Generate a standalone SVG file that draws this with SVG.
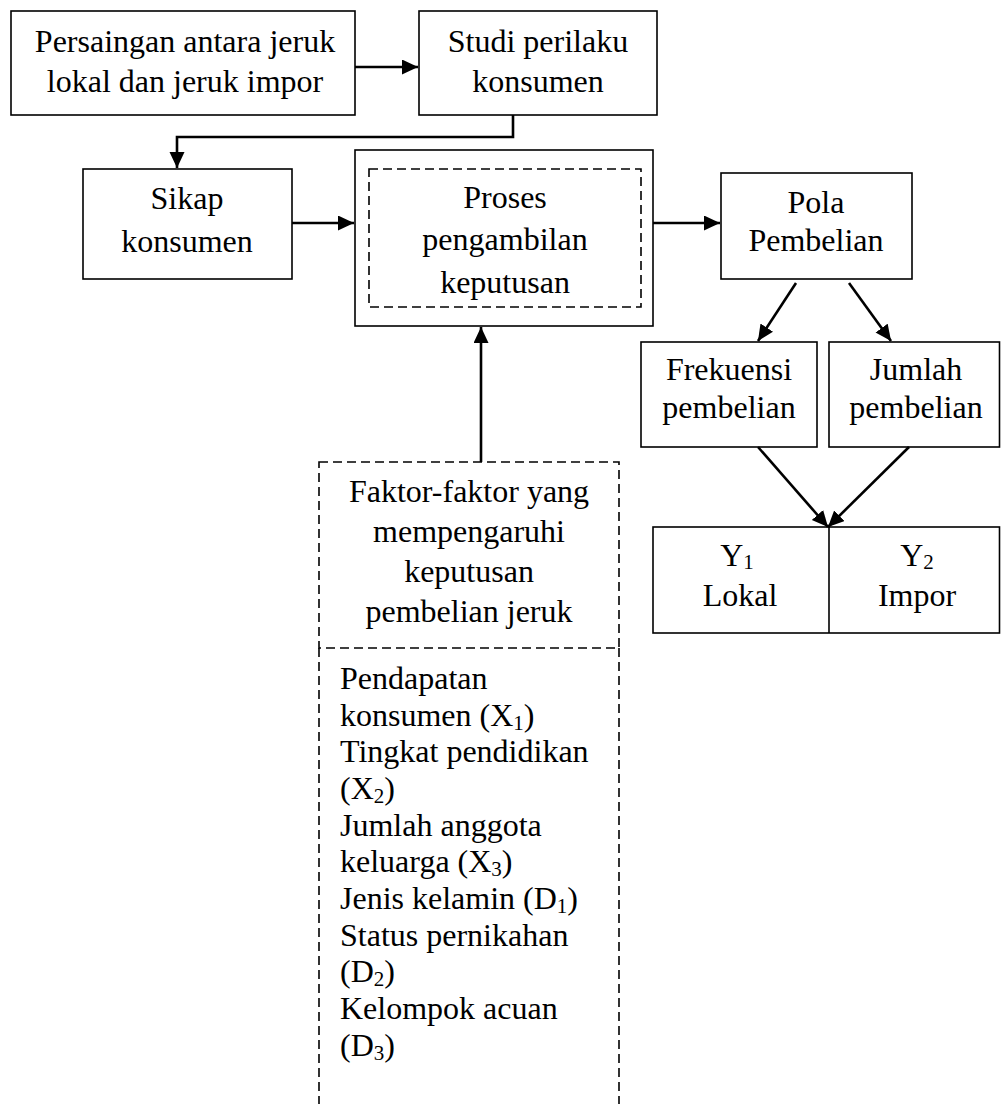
<svg xmlns="http://www.w3.org/2000/svg" width="1001" height="1104" viewBox="0 0 1001 1104">
<style>
  .box { fill: none; stroke: #000; stroke-width: 1.6; }
  .dash { fill: none; stroke: #000; stroke-width: 1.6; stroke-dasharray: 9 5; }
  .conn { fill: none; stroke: #000; stroke-width: 2.6; }
  text { font-family: "Liberation Serif", "Times New Roman", serif; font-size: 32px; fill: #000; }
  .c { text-anchor: middle; }
  .sub { font-size: 21px; }
</style>
<defs>
  <marker id="arr" markerUnits="userSpaceOnUse" markerWidth="17" markerHeight="16" refX="16" refY="7.5" orient="auto">
    <path d="M0,0 L16,7.5 L0,15 z" fill="#000"/>
  </marker>
</defs>
<rect width="1001" height="1104" fill="#fff"/>

<g id="connectors">
  <path class="conn" d="M355,67 H418" marker-end="url(#arr)"/>
  <path class="conn" d="M513,115 V137 H177 V168" marker-end="url(#arr)"/>
  <path class="conn" d="M292,223 H354" marker-end="url(#arr)"/>
  <path class="conn" d="M653,223 H720" marker-end="url(#arr)"/>
  <path class="conn" d="M481,462 V327" marker-end="url(#arr)"/>
  <path class="conn" d="M796,283 L758,341" marker-end="url(#arr)"/>
  <path class="conn" d="M849,283 L891,341" marker-end="url(#arr)"/>
  <path class="conn" d="M758,447 L828,527" marker-end="url(#arr)"/>
  <path class="conn" d="M909,447 L828,527" marker-end="url(#arr)"/>
</g>

<g id="persaingan">
  <rect class="box" x="11" y="11" width="344" height="104"/>
  <text class="c" x="185" y="52">Persaingan antara jeruk</text>
  <text class="c" x="185" y="92">lokal dan jeruk impor</text>
</g>

<g id="studi">
  <rect class="box" x="419" y="11" width="238" height="104"/>
  <text class="c" x="538" y="52">Studi perilaku</text>
  <text class="c" x="538" y="92">konsumen</text>
</g>

<g id="sikap">
  <rect class="box" x="83" y="169" width="209" height="110"/>
  <text class="c" x="187" y="209">Sikap</text>
  <text class="c" x="187" y="252">konsumen</text>
</g>

<g id="proses">
  <rect class="box" x="355" y="150" width="298" height="176"/>
  <rect class="dash" x="369" y="169" width="272" height="138"/>
  <text class="c" x="505" y="208">Proses</text>
  <text class="c" x="505" y="250">pengambilan</text>
  <text class="c" x="505" y="293">keputusan</text>
</g>

<g id="pola">
  <rect class="box" x="721" y="173" width="191" height="106"/>
  <text class="c" x="816" y="213">Pola</text>
  <text class="c" x="816" y="251">Pembelian</text>
</g>

<g id="frekuensi">
  <rect class="box" x="641" y="342" width="176" height="105"/>
  <text class="c" x="729" y="380">Frekuensi</text>
  <text class="c" x="729" y="418">pembelian</text>
</g>

<g id="jumlah">
  <rect class="box" x="829" y="342" width="170.5" height="105"/>
  <text class="c" x="916" y="380">Jumlah</text>
  <text class="c" x="916" y="418">pembelian</text>
</g>

<g id="hasil">
  <rect class="box" x="653" y="527" width="346.5" height="106"/>
  <line class="box" x1="829" y1="527" x2="829" y2="633"/>
  <text class="c" x="737" y="566">Y<tspan class="sub" dy="3">1</tspan></text>
  <text class="c" x="740" y="606">Lokal</text>
  <text class="c" x="917" y="566">Y<tspan class="sub" dy="3">2</tspan></text>
  <text class="c" x="917" y="606">Impor</text>
</g>

<g id="faktor">
  <rect class="dash" x="319" y="462" width="300" height="186"/>
  <text class="c" x="469" y="502">Faktor-faktor yang</text>
  <text class="c" x="469" y="542">mempengaruhi</text>
  <text class="c" x="469" y="582">keputusan</text>
  <text class="c" x="469" y="622">pembelian jeruk</text>
</g>

<g id="variabel">
  <path class="dash" d="M319,648 V1104 M619,648 V1104"/>
  <text x="340" y="689">Pendapatan</text>
  <text x="340" y="726">konsumen (X<tspan class="sub" dy="4">1</tspan><tspan dy="-4">)</tspan></text>
  <text x="340" y="762">Tingkat pendidikan</text>
  <text x="340" y="799">(X<tspan class="sub" dy="4">2</tspan><tspan dy="-4">)</tspan></text>
  <text x="340" y="836">Jumlah anggota</text>
  <text x="340" y="872">keluarga (X<tspan class="sub" dy="4">3</tspan><tspan dy="-4">)</tspan></text>
  <text x="340" y="909">Jenis kelamin (D<tspan class="sub" dy="4">1</tspan><tspan dy="-4">)</tspan></text>
  <text x="340" y="946">Status pernikahan</text>
  <text x="340" y="982">(D<tspan class="sub" dy="4">2</tspan><tspan dy="-4">)</tspan></text>
  <text x="340" y="1019">Kelompok acuan</text>
  <text x="340" y="1056">(D<tspan class="sub" dy="4">3</tspan><tspan dy="-4">)</tspan></text>
</g>
</svg>
